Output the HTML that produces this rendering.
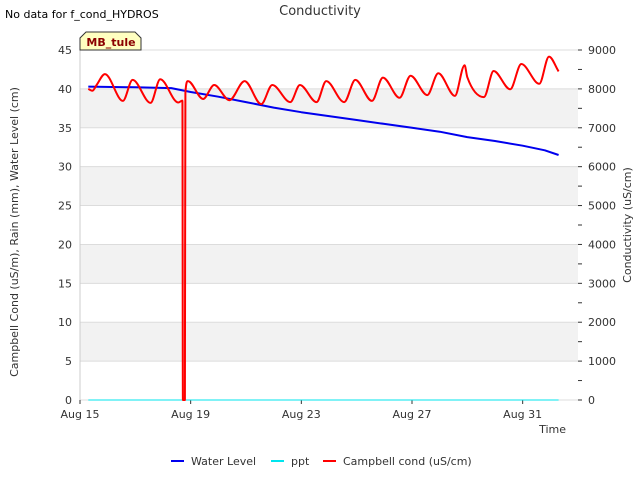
<!DOCTYPE html>
<html><head><meta charset="utf-8"><style>
body{margin:0;background:#fff;font-family:"DejaVu Sans","Liberation Sans",sans-serif;}
svg text{font-family:"DejaVu Sans","Liberation Sans",sans-serif;}
</style></head><body>
<svg id="c" width="640" height="480" xmlns="http://www.w3.org/2000/svg"></svg>
<script>
const condDays=[15.3,15.45,15.6,15.9,16.55,16.9,17.55,17.9,18.55,18.7,18.72,18.79,18.81,18.9,19.45,19.85,20.4,20.95,21.55,21.95,22.6,22.95,23.55,23.9,24.55,24.95,25.55,25.95,26.55,26.95,27.55,27.95,28.55,28.9,29.0,29.6,29.95,30.55,30.95,31.6,31.95,32.3];
const condVals=[8000,7950,8100,8380,7690,8230,7640,8250,7650,7700,0,0,7900,8200,7740,8100,7710,8200,7610,8100,7660,8100,7660,8200,7660,8230,7690,8290,7770,8340,7840,8400,7820,8610,8300,7790,8460,7990,8640,8130,8830,8450];
const wlDays=[15.3,17,18.3,19,20,21,22,23,24,25,26,27,28,29,30,31,31.8,32.3];
const wlVals=[40.3,40.2,40.1,39.6,39.0,38.3,37.6,37.0,36.5,36.0,35.5,35.0,34.5,33.8,33.3,32.7,32.1,31.5];
const pptDays=[15.3,32.3];
const pptVals=[0,0];
const xTicks=[15,19,23,27,31];
const xLabels=["Aug 15","Aug 19","Aug 23","Aug 27","Aug 31"];
const yTicks=[0,5,10,15,20,25,30,35,40,45];
const y2Ticks=[0,1000,2000,3000,4000,5000,6000,7000,8000,9000];

const L=80,R=578,T=50,B=400;
const X=d=>L+(d-15)*(R-L)/18;
const Y=v=>B-v*(B-T)/45;
const Y2=v=>B-v*(B-T)/9000;
const svg=document.getElementById('c');
const NS='http://www.w3.org/2000/svg';
function mk(tag,attrs,parent){const e=document.createElementNS(NS,tag);for(const k in attrs)e.setAttribute(k,attrs[k]);(parent||svg).appendChild(e);return e;}

for(let i=0;i<yTicks.length-1;i++){
  if(i%2===1){const r=mk('rect',{x:L,y:Y(yTicks[i+1]),width:R-L,height:Y(yTicks[i])-Y(yTicks[i+1]),fill:'#f2f2f2'});
  
  }
}
yTicks.forEach(v=>{
  const g=mk('line',{x1:L,x2:R,y1:Y(v),y2:Y(v),stroke:'#dcdcdc','stroke-width':1});
  
  
  const t=mk('text',{x:L-8,y:Y(v)+4,'text-anchor':'end','font-size':11,fill:'#333'});
  t.textContent=v;
  
  
});
y2Ticks.forEach(v=>{
  const t=mk('text',{x:R+10,y:Y2(v)+4,'text-anchor':'start','font-size':11,fill:'#333'});
  t.textContent=v;
  
  
});
for(let v=0;v<=9000;v+=500){
  const tk=mk('line',{x1:R,x2:R+4,y1:Y2(v),y2:Y2(v),stroke:'#333'});
  
  
}
xTicks.forEach((d,i)=>{
  const tk=mk('line',{x1:X(d),x2:X(d),y1:B,y2:B+4,stroke:'#333'});
  
  
  const t=mk('text',{x:X(d),y:B+18,'text-anchor':'middle','font-size':11,fill:'#333'});
  t.textContent=xLabels[i];
  
  
});
const ax=mk('line',{x1:L,x2:L,y1:T,y2:B,stroke:'#ccc'});



function path(days,vals,yf,color,w,name,smooth){
  const px=days.map(X), py=vals.map(yf);
  let d='M'+px[0].toFixed(1)+' '+py[0].toFixed(1);
  if(!smooth){for(let i=1;i<px.length;i++)d+=' L'+px[i].toFixed(1)+' '+py[i].toFixed(1);}
  else{
    const n=px.length,s=[],m=new Array(n);
    for(let i=0;i<n-1;i++)s.push((py[i+1]-py[i])/(px[i+1]-px[i]));
    m[0]=s[0];m[n-1]=s[n-2];
    for(let i=1;i<n-1;i++){m[i]=(s[i-1]*s[i]<=0)?0:(s[i-1]+s[i])/2;}
    for(let i=0;i<n-1;i++){
      if(s[i]===0){m[i]=0;m[i+1]=0;continue;}
      const a=m[i]/s[i],b=m[i+1]/s[i],h=a*a+b*b;
      if(h>9){const t=3/Math.sqrt(h);m[i]=t*a*s[i];m[i+1]=t*b*s[i];}
    }
    for(let i=0;i<n-1;i++){
      const h=(px[i+1]-px[i])/3;
      d+=' C'+(px[i]+h).toFixed(1)+' '+(py[i]+m[i]*h).toFixed(1)+' '+(px[i+1]-h).toFixed(1)+' '+(py[i+1]-m[i+1]*h).toFixed(1)+' '+px[i+1].toFixed(1)+' '+py[i+1].toFixed(1);
    }
  }
  const p=mk('path',{d:d,fill:'none',stroke:color,'stroke-width':w,'stroke-linejoin':'round'});
  
  
}
path(pptDays,pptVals,Y,'#00e5ee',1,'ppt-line',false);
path(wlDays,wlVals,Y,'#0000ee',2,'water-level-line',false);
path(condDays,condVals,Y2,'#ff0000',2,'campbell-cond-line',true);

function txt(x,y,s,size,name,extra){const t=mk('text',Object.assign({x:x,y:y,'font-size':size,fill:'#333'},extra||{}));t.textContent=s;

return t;}
txt(5,18,'No data for f_cond_HYDROS',11,'no-data-note',{fill:'#000'});
txt(320,15,'Conductivity',13,'chart-title',{'text-anchor':'middle'});
txt(566,433,'Time',11,'x-axis-title',{'text-anchor':'end'});
txt(0,0,'Campbell Cond (uS/m), Rain (mm), Water Level (cm)',11,'y-axis-title',{'text-anchor':'middle',transform:'translate(18,232) rotate(-90)'});
txt(0,0,'Conductivity (uS/cm)',11,'y2-axis-title',{'text-anchor':'middle',transform:'translate(631,225) rotate(-90)'});

const tag=mk('path',{d:'M80 50 L80 38 L86 32 L135 32 L141 38 L141 50 Z',fill:'#ffffc0',stroke:'#333','stroke-width':1});


txt(111,46,'MB_tule',11,'site-label',{'text-anchor':'middle',fill:'#8b0000','font-weight':'bold'});

const leg=[['Water Level','#0000ee',171],['ppt','#00e5ee',271],['Campbell cond (uS/cm)','#ff0000',323]];
leg.forEach(([n,c,x])=>{
  const l=mk('line',{x1:x,x2:x+13,y1:461,y2:461,stroke:c,'stroke-width':2});
  
  
  txt(x+20,465,n,11,'legend-entry');
});
</script>
</body></html>
